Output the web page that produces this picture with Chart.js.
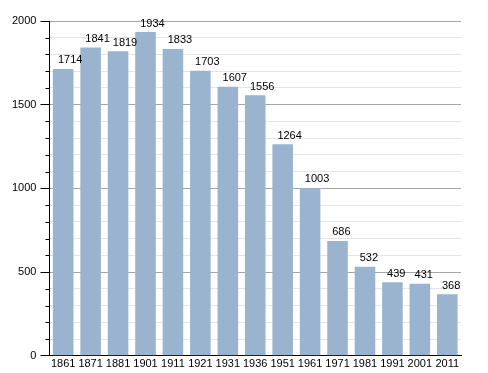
<!DOCTYPE html>
<html>
<head>
<meta charset="utf-8">
<script src="https://cdn.jsdelivr.net/npm/chart.js@4"></script>
<style>
  body { margin: 0; background: #fff; }
  #wrap { width: 488px; height: 373px; }
</style>
</head>
<body>
<div id="wrap"><canvas id="popChart" width="488" height="373"></canvas></div>
<script>
const years = ['1861','1871','1881','1901','1911','1921','1931','1936','1951','1961','1971','1981','1991','2001','2011'];
const population = [1714,1841,1819,1934,1833,1703,1607,1556,1264,1003,686,532,439,431,368];
const yMax = 2000;
const yStep = 100;
const majorStep = 500;

// value labels above each bar, slightly right of the bar's left edge
const valueLabels = {
    id: 'valueLabels',
    afterDatasetsDraw(chart) {
        const ctx = chart.ctx;
        const meta = chart.getDatasetMeta(0);
        ctx.save();
        ctx.font = '11px "Liberation Sans", Arial, sans-serif';
        ctx.fillStyle = '#000';
        ctx.textAlign = 'left';
        ctx.textBaseline = 'bottom';
        meta.data.forEach((bar, i) => {
            const left = bar.x - bar.width / 2;
            ctx.fillText(population[i], left + 5, bar.y - 3);
        });
        ctx.restore();
    }
};

// short minor tick marks on the y axis
const minorTicks = {
    id: 'minorTicks',
    afterDraw(chart) {
        const ctx = chart.ctx;
        const y = chart.scales.y;
        const left = chart.chartArea.left;
        ctx.save();
        ctx.strokeStyle = '#000';
        ctx.lineWidth = 1;
        for (let v = 0; v <= yMax; v += yStep) {
            if (v % majorStep === 0) continue;
            const py = Math.round(y.getPixelForValue(v)) + 0.5;
            ctx.beginPath();
            ctx.moveTo(left - 4, py);
            ctx.lineTo(left, py);
            ctx.stroke();
        }
        ctx.restore();
    }
};

const ctx = document.getElementById('popChart').getContext('2d');
const myChart = new Chart(ctx, {
    type: 'bar',
    data: {
        labels: years,
        datasets: [{
            data: population,
            backgroundColor: '#9ab4cf',
            borderWidth: 0,
            categoryPercentage: 1,
            barPercentage: 0.75
        }]
    },
    options: {
        responsive: false,
        animation: false,
        layout: { padding: { top: 21, right: 27, left: 8, bottom: 0 } },
        plugins: {
            legend: { display: false },
            tooltip: { enabled: false }
        },
        scales: {
            x: {
                grid: { display: false, drawTicks: false },
                border: { color: '#000', width: 1 },
                ticks: {
                    color: '#000',
                    font: { family: '"Liberation Sans", Arial, sans-serif', size: 11 },
                    padding: 2,
                    maxRotation: 0,
                    autoSkip: false
                }
            },
            y: {
                min: 0,
                max: yMax,
                border: { color: '#000', width: 1 },
                grid: {
                    color: (c) => (c.tick && c.tick.value % majorStep === 0) ? '#a6a6a6' : '#e4e4e4',
                    tickColor: (c) => (c.tick && c.tick.value % majorStep === 0) ? '#000' : 'rgba(0,0,0,0)',
                    tickLength: 9
                },
                ticks: {
                    stepSize: yStep,
                    autoSkip: false,
                    color: '#000',
                    padding: 4,
                    font: { family: '"Liberation Sans", Arial, sans-serif', size: 11 },
                    callback: (v) => (v % majorStep === 0) ? v : ''
                }
            }
        }
    },
    plugins: [valueLabels, minorTicks]
});
</script>
</body>
</html>
